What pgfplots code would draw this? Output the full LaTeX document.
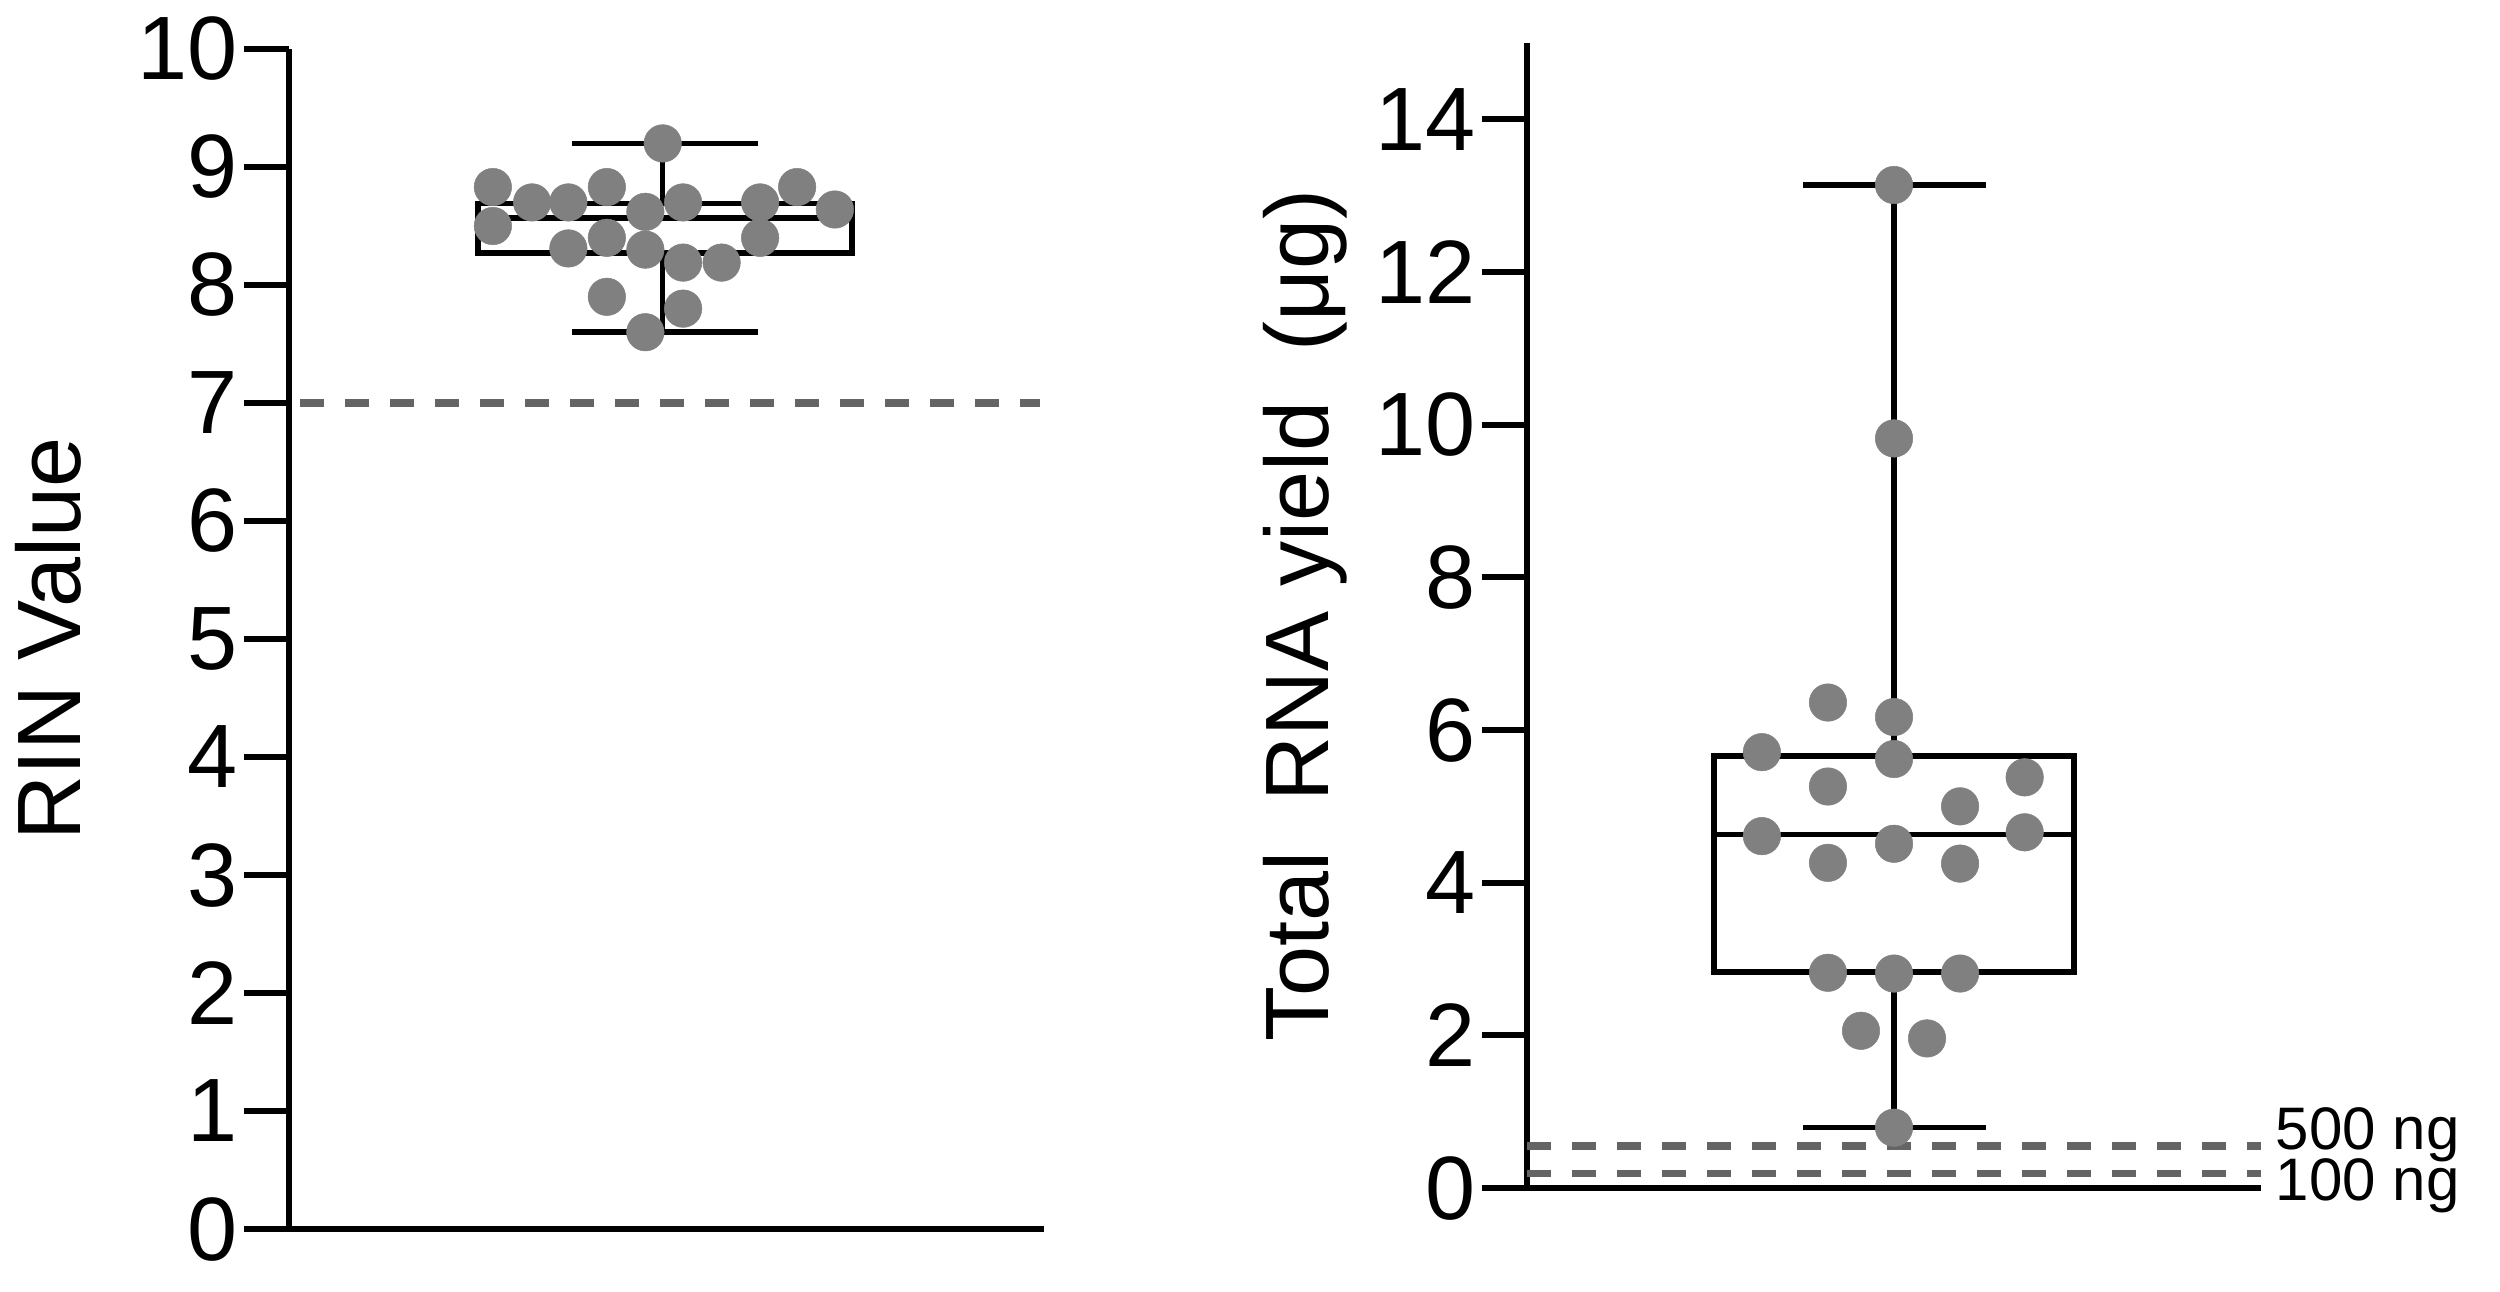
\documentclass[border=0pt]{standalone}
\usepackage{fontspec}
\setmainfont{Liberation Sans}
\usepackage{pgfplots}
\pgfplotsset{compat=1.18}
\definecolor{ptgray}{RGB}{128,128,128}
\definecolor{dashgray}{RGB}{100,100,100}
\begin{document}
\begin{tikzpicture}
\useasboundingbox (0,0) rectangle (500pt,258.2pt);
\pgfplotsset{
  myaxis/.style={
    scale only axis,
    axis x line=bottom, axis y line=left,
    axis line style={-, line width=1.2pt, black},
    xtick=\empty,
    tick align=outside,
    major tick length=9pt,
    every tick/.style={line width=1.2pt, black},
    tick label style={font=\fontsize{18}{20}\selectfont},
    label style={font=\fontsize{18}{20}\selectfont},
    /pgf/number format/assume math mode=true,
    xmin=0, xmax=1,
    clip=false,
    yticklabel style={inner sep=1pt},
  },
  boxline/.style={black, line width=1.1pt, line join=miter, no marks},
  pts/.style={ptgray, only marks, mark=*, mark size=3.75pt, mark options={fill=ptgray, draw=ptgray, line width=0.1pt}},
  thr/.style={dashgray, line width=1.5pt, dash pattern=on 4.8pt off 4.2pt, no marks},
}
% ---------- Left: RIN ----------
\begin{axis}[myaxis, at={(57.8pt,12.4pt)}, anchor=south west,
  width=151pt, height=236pt, ymin=0, ymax=10, ytick={0,...,10},
  ylabel={RIN Value},
  ylabel style={at={(axis description cs:-0.274,0.5)}, anchor=south, inner sep=0pt}]
\addplot[thr] coordinates {(0.015,7) (0.995,7)};
\addplot[boxline] coordinates {(0.25,8.27) (0.746,8.27) (0.746,8.69) (0.25,8.69) (0.25,8.27) (0.746,8.27)};
\addplot[boxline] coordinates {(0.25,8.57) (0.746,8.57)};
\addplot[boxline] coordinates {(0.495,8.69) (0.495,9.20)};
\addplot[boxline] coordinates {(0.375,9.20) (0.621,9.20)};
\addplot[boxline] coordinates {(0.495,8.27) (0.495,7.60)};
\addplot[boxline] coordinates {(0.375,7.60) (0.621,7.60)};
\addplot[pts] coordinates {
(0.270,8.83) (0.270,8.50) (0.322,8.70) (0.370,8.70) (0.370,8.31)
(0.421,8.83) (0.421,8.40) (0.421,7.90) (0.472,8.62) (0.472,8.30)
(0.472,7.60) (0.495,9.20) (0.522,8.70) (0.522,8.19) (0.522,7.80)
(0.573,8.19) (0.624,8.70) (0.624,8.40) (0.673,8.83) (0.723,8.64)};
\end{axis}
% ---------- Right: yield ----------
\begin{axis}[myaxis, at={(305.4pt,20.6pt)}, anchor=south west,
  width=146.8pt, height=229pt, ymin=0, ymax=15, ytick={0,2,...,14},
  ylabel={Total\ \ RNA yield\ \ (μg)},
  ylabel style={at={(axis description cs:-0.244,0.5)}, anchor=south, inner sep=0pt}]
\addplot[thr] coordinates {(0,0.55) (1,0.55)};
\addplot[thr] coordinates {(0,0.19) (1,0.19)};
\addplot[boxline] coordinates {(0.255,2.83) (0.745,2.83) (0.745,5.66) (0.255,5.66) (0.255,2.83) (0.745,2.83)};
\addplot[boxline] coordinates {(0.255,4.63) (0.745,4.63)};
\addplot[boxline] coordinates {(0.5,5.66) (0.5,13.14)};
\addplot[boxline] coordinates {(0.376,13.14) (0.625,13.14)};
\addplot[boxline] coordinates {(0.5,2.83) (0.5,0.79)};
\addplot[boxline] coordinates {(0.376,0.79) (0.625,0.79)};
\addplot[pts] coordinates {
(0.410,6.36) (0.500,6.17) (0.320,5.71) (0.500,5.62) (0.410,5.26)
(0.678,5.38) (0.590,5.00) (0.320,4.61) (0.678,4.66) (0.500,4.51)
(0.410,4.26) (0.590,4.25) (0.410,2.82) (0.500,2.81) (0.590,2.81)
(0.455,2.06) (0.545,1.96) (0.500,0.79) (0.500,9.82) (0.500,13.14)};
\node[anchor=base west, inner sep=0pt, font=\fontsize{12}{13}\selectfont] at (axis cs:1.019,0.50) {500 ng};
\node[anchor=base west, inner sep=0pt, font=\fontsize{12}{13}\selectfont] at (axis cs:1.019,-0.157) {100 ng};
\end{axis}
\end{tikzpicture}
\end{document}
